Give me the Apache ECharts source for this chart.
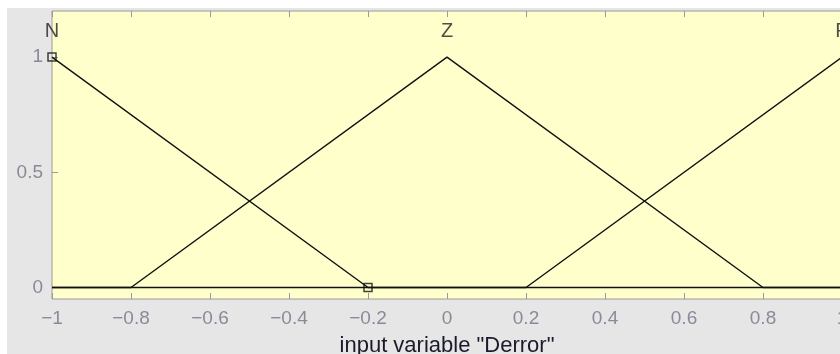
<!DOCTYPE html>
<html>
<head>
<meta charset="utf-8">
<script src="https://cdn.jsdelivr.net/npm/echarts@6/dist/echarts.min.js"></script>
<style>
  html, body { margin: 0; padding: 0; background: #ffffff; overflow: hidden; }
  #chart {
    position: absolute;
    left: 7px;
    top: 8px;
    width: 833px;
    height: 346px;
    background: #e6e6e6;
  }
</style>
</head>
<body>
<div id="chart"></div>
<script>
// membership functions of input "Derror"
const mfNames = ['N', 'Z', 'P']
const mfPeaks = [-1, 0, 1]

const nX = [-1, -0.2, 1]
const nY = [1, 0, 0]
const zX = [-1, -0.8, 0, 0.8, 1]
const zY = [0, 0, 1, 0, 0]
const pX = [-1, 0.2, 1]
const pY = [0, 0, 1]

// handles of the selected mf (N)
const handleX = [-1, -0.2]
const handleY = [1, 0]

const yTicks = [0, 0.5, 1]
const xName = 'input variable "Derror"'

const pairs = (xs, ys) => xs.map((x, i) => [x, ys[i]])

const labelColor = '#8a8a99'
const frameColor = '#9a9a9a'

function fmt(v) {
  const s = String(Math.round(v * 10) / 10)
  return s.replace('-', '\u2212')
}

const chart = echarts.init(document.getElementById('chart'))

const mfLine = (name, data) => ({
  name,
  type: 'line',
  data,
  symbol: 'none',
  lineStyle: { color: '#111', width: 1.4 },
  animation: false
})

chart.setOption({
  animation: false,
  textStyle: { fontFamily: 'Liberation Sans, Arial, sans-serif' },
  grid: {
    left: 45,
    top: 3,
    width: 790,
    bottom: 55,
    outerBoundsMode: 'none',
    containLabel: false,
    show: true,
    backgroundColor: '#ffffcc',
    borderColor: frameColor,
    borderWidth: 1
  },
  xAxis: [
    {
      type: 'value',
      min: -1,
      max: 1,
      interval: 0.2,
      position: 'bottom',
      axisLine: { show: false, onZero: false },
      axisTick: { inside: true, length: 6, lineStyle: { color: frameColor } },
      splitLine: { show: false },
      axisLabel: {
        color: labelColor,
        fontSize: 19,
        margin: 10,
        formatter: fmt
      },
      name: xName,
      nameLocation: 'middle',
      nameGap: 36,
      nameTextStyle: { color: '#1a1a2a', fontSize: 22 }
    },
    {
      type: 'value',
      min: -1,
      max: 1,
      interval: 0.2,
      position: 'top',
      axisLine: { show: false, onZero: false },
      axisTick: { inside: true, length: 6, lineStyle: { color: frameColor } },
      axisLabel: { show: false },
      splitLine: { show: false }
    }
  ],
  yAxis: {
    type: 'value',
    min: -0.05,
    max: 1.2,
    position: 'left',
    axisLine: { show: false, onZero: false },
    splitLine: { show: false },
    axisTick: {
      inside: true,
      length: 6,
      customValues: yTicks,
      lineStyle: { color: frameColor }
    },
    axisLabel: {
      color: labelColor,
      fontSize: 19,
      margin: 9,
      customValues: yTicks,
      formatter: fmt
    }
  },
  series: [
    mfLine('N', pairs(nX, nY)),
    mfLine('Z', pairs(zX, zY)),
    mfLine('P', pairs(pX, pY)),
    {
      name: 'handles',
      type: 'scatter',
      data: pairs(handleX, handleY),
      symbol: 'rect',
      symbolSize: 8,
      itemStyle: { color: 'rgba(0,0,0,0)', borderColor: '#111', borderWidth: 1.5 },
      clip: false
    },
    {
      name: 'mf labels',
      type: 'scatter',
      data: mfPeaks.map((x, i) => ({ value: [x, 1], name: mfNames[i] })),
      symbolSize: 0,
      clip: false,
      silent: true,
      label: {
        show: true,
        position: 'top',
        distance: 16,
        formatter: p => p.name,
        color: '#222',
        fontSize: 20
      }
    }
  ]
})
</script>
</body>
</html>
